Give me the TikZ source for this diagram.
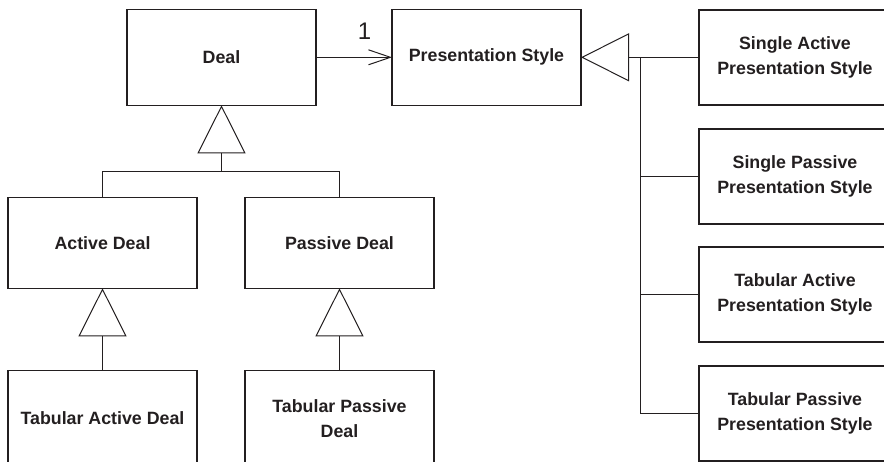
\documentclass[tikz,border=0pt]{standalone}
\usepackage{fontspec}
\setmainfont{Liberation Sans}
\usepackage{tikz}
\usetikzlibrary{arrows.meta,positioning,calc}
\definecolor{UmlInk}{HTML}{231F20}

\begin{document}
\begin{tikzpicture}[
	x=1pt, y=1pt,
	node distance=92pt and 76pt,
	cls/.style={draw=UmlInk, line width=1.5pt, align=center, inner sep=4pt, outer sep=0pt, minimum width=189pt, minimum height=96pt, text=UmlInk, font=\fontsize{17.8}{25}\selectfont\bfseries},
	sub/.style={cls, minimum height=91pt},
	pstyle/.style={cls, minimum width=192pt, minimum height=95pt},
	link/.style={draw=UmlInk, line width=1pt},
	gen/.style={link, -{Triangle[open, length=48pt, width=48pt]}},
	assoc/.style={link, -{Straight Barb[length=22pt, width=15pt]}}
]
\clip (0,0) rectangle (884,-461);

\node[cls] (deal) at (221.5,-57.3) {Deal};
\node[cls, right=76pt of deal] (ps) {Presentation Style};

\node[sub, below=92pt of deal.south, xshift=-119pt] (active) {Active Deal};
\node[sub, right=48pt of active] (passive) {Passive Deal};
\node[cls, below=82pt of active] (tabact) {Tabular Active Deal};
\node[cls, below=82pt of passive] (tabpas) {Tabular Passive\\Deal};

\node[pstyle, right=118pt of ps] (sap) {Single Active\\Presentation Style};
\node[pstyle, below=24pt of sap] (spp) {Single Passive\\Presentation Style};
\node[pstyle, below=23pt of spp] (tap) {Tabular Active\\Presentation Style};
\node[pstyle, below=24pt of tap] (tpp) {Tabular Passive\\Presentation Style};

% association
\draw[assoc] (deal.east) -- node[pos=.64, above=17pt, inner sep=0pt, text=UmlInk, font=\fontsize{24}{24}\selectfont] (mult) {1} (ps.west);

% deal hierarchy
\coordinate[below=66pt of deal.south] (dealbus);
\draw[gen] (dealbus) -- (deal.south);
\draw[link] (active.north) |- (dealbus) -| (passive.north);
\draw[gen] (tabact.north) -- (active.south);
\draw[gen] (tabpas.north) -- (passive.south);

% presentation styles
\coordinate[right=59pt of ps.east] (psbus);
\draw[gen] (psbus) -- (ps.east);
\draw[link] (psbus) -- (sap.west);
\draw[link] (psbus) |- (spp.west);
\draw[link] (psbus) |- (tap.west);
\draw[link] (psbus) |- (tpp.west);
\end{tikzpicture}
\end{document}
